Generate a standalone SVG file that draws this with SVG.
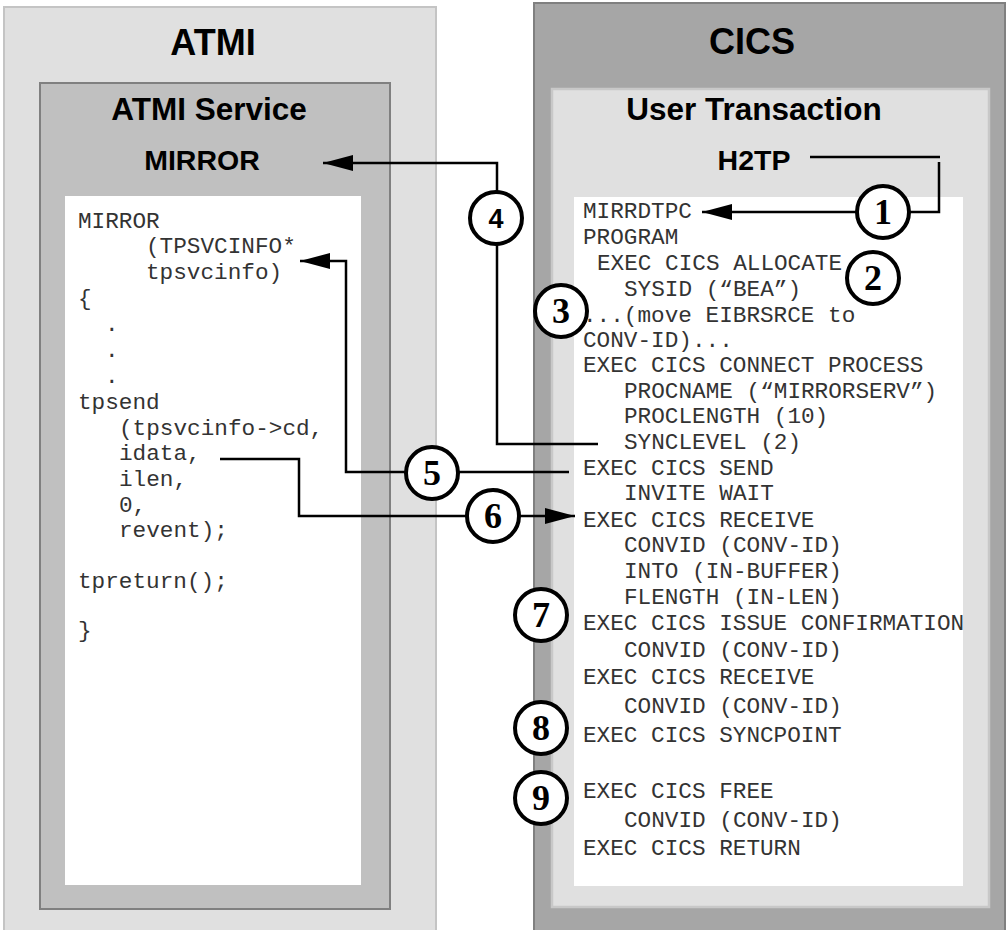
<svg xmlns="http://www.w3.org/2000/svg" width="1006" height="930" viewBox="0 0 1006 930">
<style>
.title{font-family:"Liberation Sans",Arial,sans-serif;font-weight:bold;fill:#000;text-anchor:middle}
.code{font-family:"Courier New","Liberation Mono",monospace;font-size:22.7px;fill:#333}
.conn{fill:none;stroke:#000;stroke-width:2.5}
.badge circle{fill:#fff;stroke:#000;stroke-width:4}
.badge text{font-family:"Liberation Serif","Times New Roman",serif;font-weight:bold;font-size:36px;text-anchor:middle;fill:#000}
</style>
<defs>
<marker id="arr" viewBox="0 0 30 16" refX="30" refY="8" markerWidth="30" markerHeight="16" markerUnits="userSpaceOnUse" orient="auto">
<path d="M0,0 L30,8 L0,16 z" fill="#000"/>
</marker>
</defs>
<rect width="1006" height="930" fill="#fff"/>

<g id="atmi">
<rect x="4" y="7" width="432" height="940" fill="#e0e0e0" stroke="#c4c4c4" stroke-width="2"/>
<text class="title" x="213" y="55" font-size="36">ATMI</text>
</g>
<g id="atmi-service">
<rect x="40" y="83" width="350" height="826" fill="#c0c0c0" stroke="#808080" stroke-width="2"/>
<text class="title" x="209" y="120" font-size="31.5">ATMI Service</text>
<text class="title" x="202" y="170" font-size="28.5">MIRROR</text>
<rect x="65" y="196" width="296" height="689" fill="#fff"/>
<text class="code" x="78" y="228">MIRROR</text>
<text class="code" x="146" y="253">(TPSVCINFO*</text>
<text class="code" x="146" y="279">tpsvcinfo)</text>
<text class="code" x="78" y="305">{</text>
<text class="code" x="105" y="331">.</text>
<text class="code" x="105" y="357">.</text>
<text class="code" x="105" y="383">.</text>
<text class="code" x="78" y="409">tpsend</text>
<text class="code" x="119" y="435">(tpsvcinfo-&gt;cd,</text>
<text class="code" x="119" y="460">idata,</text>
<text class="code" x="119" y="486">ilen,</text>
<text class="code" x="119" y="512">0,</text>
<text class="code" x="119" y="537">revent);</text>
<text class="code" x="78" y="588">tpreturn();</text>
<text class="code" x="78" y="637">}</text>
</g>

<g id="cics">
<rect x="534" y="3" width="471" height="940" fill="#a6a6a6" stroke="#808080" stroke-width="2"/>
<text class="title" x="752" y="54" font-size="36">CICS</text>
</g>
<g id="user-transaction">
<rect x="552" y="89" width="437" height="818" fill="#e0e0e0" stroke="#c8c8c8" stroke-width="2.5"/>
<text class="title" x="754" y="120" font-size="31.5">User Transaction</text>
<text class="title" x="754" y="170" font-size="28.5">H2TP</text>
<rect x="574" y="197" width="389" height="689" fill="#fff"/>
<text class="code" x="583" y="218">MIRRDTPC</text>
<text class="code" x="583" y="244">PROGRAM</text>
<text class="code" x="597" y="270">EXEC CICS ALLOCATE</text>
<text class="code" x="624" y="296">SYSID (“BEA”)</text>
<text class="code" x="583" y="322">...(move EIBRSRCE to</text>
<text class="code" x="583" y="347">CONV-ID)...</text>
<text class="code" x="583" y="372">EXEC CICS CONNECT PROCESS</text>
<text class="code" x="624" y="398">PROCNAME (“MIRRORSERV”)</text>
<text class="code" x="624" y="423">PROCLENGTH (10)</text>
<text class="code" x="624" y="449">SYNCLEVEL (2)</text>
<text class="code" x="583" y="475">EXEC CICS SEND</text>
<text class="code" x="624" y="500">INVITE WAIT</text>
<text class="code" x="583" y="527">EXEC CICS RECEIVE</text>
<text class="code" x="624" y="552">CONVID (CONV-ID)</text>
<text class="code" x="624" y="578">INTO (IN-BUFFER)</text>
<text class="code" x="624" y="604">FLENGTH (IN-LEN)</text>
<text class="code" x="583" y="630">EXEC CICS ISSUE CONFIRMATION</text>
<text class="code" x="624" y="657">CONVID (CONV-ID)</text>
<text class="code" x="583" y="684">EXEC CICS RECEIVE</text>
<text class="code" x="624" y="713">CONVID (CONV-ID)</text>
<text class="code" x="583" y="742">EXEC CICS SYNCPOINT</text>
<text class="code" x="583" y="798">EXEC CICS FREE</text>
<text class="code" x="624" y="827">CONVID (CONV-ID)</text>
<text class="code" x="583" y="855">EXEC CICS RETURN</text>
</g>

<g id="connectors">
<path class="conn" d="M810,157 H940"/>
<path class="conn" d="M939,162 V212 H702" marker-end="url(#arr)"/>
<path class="conn" d="M598,444 H497 V163 H323" marker-end="url(#arr)"/>
<path class="conn" d="M569,472 H346 V261 H300" marker-end="url(#arr)"/>
<path class="conn" d="M220,459 H299 V516 H575" marker-end="url(#arr)"/>
</g>

<g id="step1" class="badge"><circle cx="883" cy="212" r="26"/><text x="883" y="224">1</text></g>
<g id="step2" class="badge"><circle cx="873" cy="278" r="26"/><text x="873" y="290">2</text></g>
<g id="step3" class="badge"><circle cx="561" cy="311" r="26"/><text x="561" y="323">3</text></g>
<g id="step4" class="badge"><circle cx="496" cy="218" r="26"/><text x="496" y="228" style="font-family:'Liberation Sans',Arial,sans-serif;font-size:27px">4</text></g>
<g id="step5" class="badge"><circle cx="432" cy="473" r="26"/><text x="432" y="485">5</text></g>
<g id="step6" class="badge"><circle cx="493" cy="516" r="26"/><text x="493" y="528">6</text></g>
<g id="step7" class="badge"><circle cx="541" cy="615" r="26"/><text x="541" y="627">7</text></g>
<g id="step8" class="badge"><circle cx="541" cy="728" r="26"/><text x="541" y="740">8</text></g>
<g id="step9" class="badge"><circle cx="541" cy="798" r="26"/><text x="541" y="810">9</text></g>
</svg>
